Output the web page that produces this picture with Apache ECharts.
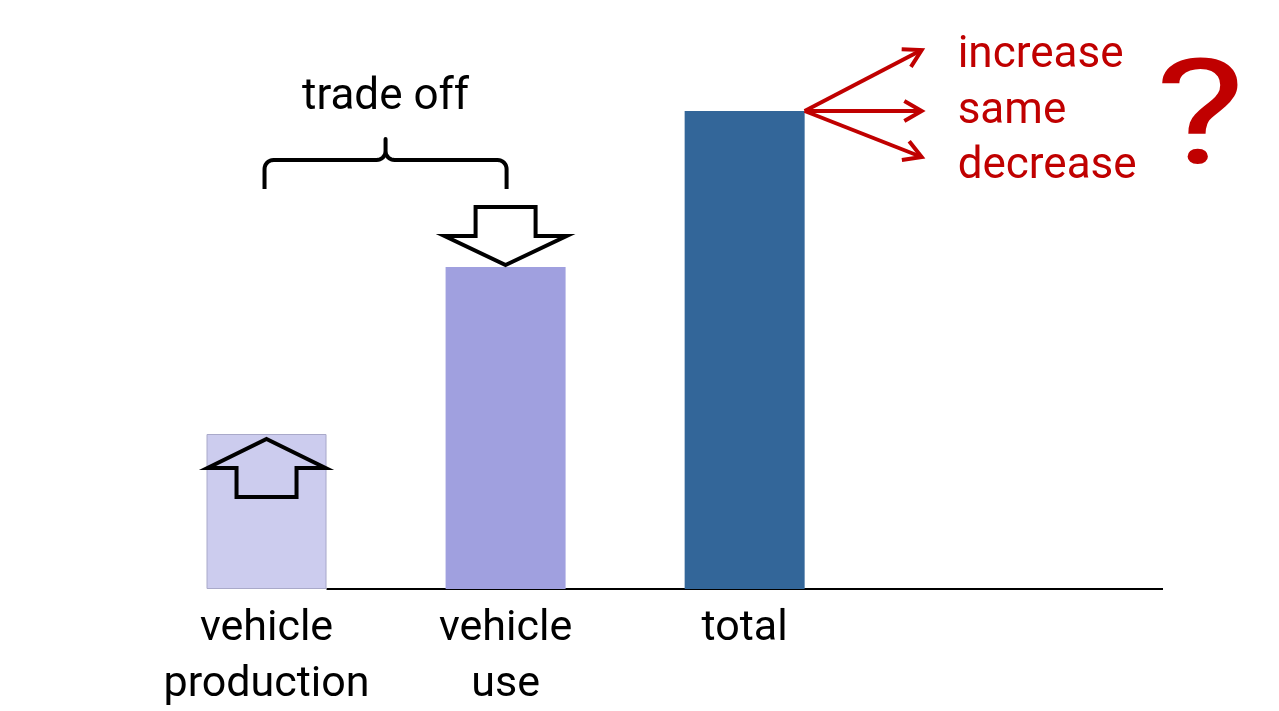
<!DOCTYPE html>
<html>
<head>
<meta charset="utf-8">
<style>
html,body{margin:0;padding:0;background:#fff;}
#chart{width:1279px;height:711px;}
</style>
<script src="https://cdn.jsdelivr.net/npm/echarts@6/dist/echarts.min.js"></script>
</head>
<body>
<div id="chart"></div>
<script>
// ---- data ----
const categories = ['vehicle\nproduction', 'vehicle\nuse', 'total'];
const positions = [0.5, 1.5, 2.5];
const values = [31, 64.4, 95.6];
const barColors = ['#CCCCEE', '#A0A0DF', '#336699'];
const outcomes = ['increase', 'same', 'decrease'];
const bracketLabel = 'trade off';
const questionMark = '?';

const FONT = 'Roboto, "Noto Sans", sans-serif';
const RED = '#C00000';
const X_MAX = 4.25;
const BAR_W = 120;

const chart = echarts.init(document.getElementById('chart'), null, {renderer: 'canvas'});

chart.setOption({
  backgroundColor: '#ffffff',
  animation: false,
  grid: {left: 147, right: 116, top: 89, bottom: 122, containLabel: false, outerBoundsMode: 'none'},
  xAxis: {
    type: 'value', min: 0, max: X_MAX, interval: 0.5,
    axisLine: {show: false}, axisTick: {show: false}, splitLine: {show: false},
    axisLabel: {
      show: true, margin: 12, showMaxLabel: false, showMinLabel: false,
      color: '#000', fontFamily: FONT, fontSize: 43, lineHeight: 56,
      formatter: function (v) {
        const i = positions.indexOf(v);
        return i >= 0 ? categories[i] : '';
      }
    }
  },
  yAxis: {type: 'value', min: 0, max: 100, show: false},
  series: [{
    type: 'bar',
    barWidth: BAR_W,
    data: positions.map((p, i) => ({
      value: [p, values[i]],
      itemStyle: {
        color: barColors[i],
        borderColor: i === 0 ? '#A9A9C9' : barColors[i],
        borderWidth: i === 0 ? 1 : 0
      }
    }))
  }]
});

// ---- annotations anchored to the bars ----
const px = (x, y) => chart.convertToPixel({gridIndex: 0}, [x, y]);
const top0 = px(positions[0], values[0]);
const top1 = px(positions[1], values[1]);
const top2 = px(positions[2], values[2]);
const base = px(0, 0)[1];
const xEnd = px(X_MAX, 0)[0];
const half = BAR_W / 2;

function arcPts(cx, cy, r, a0, a1, n) {
  const pts = [];
  for (let k = 0; k <= n; k++) {
    const a = a0 + (a1 - a0) * k / n;
    pts.push([cx + r * Math.cos(a), cy + r * Math.sin(a)]);
  }
  return pts;
}

// brace between bar 1 and bar 2 centres
const bx0 = top0[0] - 2, bx1 = top1[0] + 1, bm = (bx0 + bx1) / 2;
const by = 160, bBottom = 189, bPeak = 139, r = 9;
let brace = [[bx0, bBottom]];
brace = brace.concat(arcPts(bx0 + r, by + r, r, Math.PI, 1.5 * Math.PI, 8));
brace = brace.concat(arcPts(bm - r, by - r, r, 0.5 * Math.PI, 0, 8));
brace.push([bm, bPeak]);
brace = brace.concat(arcPts(bm + r, by - r, r, Math.PI, 0.5 * Math.PI, 8));
brace = brace.concat(arcPts(bx1 - r, by + r, r, 1.5 * Math.PI, 2 * Math.PI, 8));
brace.push([bx1, bBottom]);

// hollow up arrow on bar 1
const ux = top0[0], uy = top0[1] + 5;
const upArrow = [[ux, uy], [ux + 59, uy + 29], [ux + 30, uy + 29], [ux + 30, uy + 58],
  [ux - 30, uy + 58], [ux - 30, uy + 29], [ux - 59, uy + 29]];
// hollow down arrow above bar 2
const dx = top1[0], dy = top1[1] - 2;
const downArrow = [[dx, dy], [dx + 61, dy - 29], [dx + 30, dy - 29], [dx + 30, dy - 58],
  [dx - 30, dy - 58], [dx - 30, dy - 29], [dx - 61, dy - 29]];

// red arrows from top right of total bar
const ox = top2[0] + half, oy = top2[1];
const ends = [[ox + 117, oy - 61], [ox + 117, oy], [ox + 117, oy + 46]];
const graphics = [];
graphics.push({type: 'line', shape: {x1: top0[0] + half, y1: base, x2: xEnd, y2: base},
  style: {stroke: '#000', lineWidth: 2}, z: 1});
graphics.push({type: 'polyline', shape: {points: brace}, style: {stroke: '#000', lineWidth: 4, fill: null, lineJoin: 'round'}, z: 10});
graphics.push({type: 'text', x: bm, y: 98, style: {text: bracketLabel, font: '44px ' + FONT, fill: '#000', align: 'center', verticalAlign: 'middle'}, z: 10});
graphics.push({type: 'polygon', shape: {points: upArrow}, style: {stroke: '#000', lineWidth: 4, fill: null, lineJoin: 'miter'}, z: 10});
graphics.push({type: 'polygon', shape: {points: downArrow}, style: {stroke: '#000', lineWidth: 4, fill: '#fff', lineJoin: 'miter'}, z: 10});
ends.forEach((e, i) => {
  graphics.push({type: 'line', shape: {x1: ox, y1: oy, x2: e[0], y2: e[1]}, style: {stroke: RED, lineWidth: 4}, z: 10});
  const ang = Math.atan2(e[1] - oy, e[0] - ox);
  const L = 20, spread = Math.PI / 6;
  graphics.push({type: 'polyline', shape: {points: [
    [e[0] - L * Math.cos(ang - spread), e[1] - L * Math.sin(ang - spread)],
    [e[0], e[1]],
    [e[0] - L * Math.cos(ang + spread), e[1] - L * Math.sin(ang + spread)]
  ]}, style: {stroke: RED, lineWidth: 4, fill: null, lineJoin: 'miter'}, z: 10});
  graphics.push({type: 'text', x: ox + 153, y: oy + [-55, 1, 56][i],
    style: {text: outcomes[i], font: '44px ' + FONT, fill: RED, align: 'left', verticalAlign: 'middle'}, z: 10});
});
graphics.push({type: 'text', x: 1200, y: 126, scaleX: 1.3, style: {text: questionMark, font: '146px ' + FONT, fill: RED, align: 'center', verticalAlign: 'middle'}, z: 10});

chart.setOption({graphic: {elements: graphics}});
</script>
</body>
</html>
